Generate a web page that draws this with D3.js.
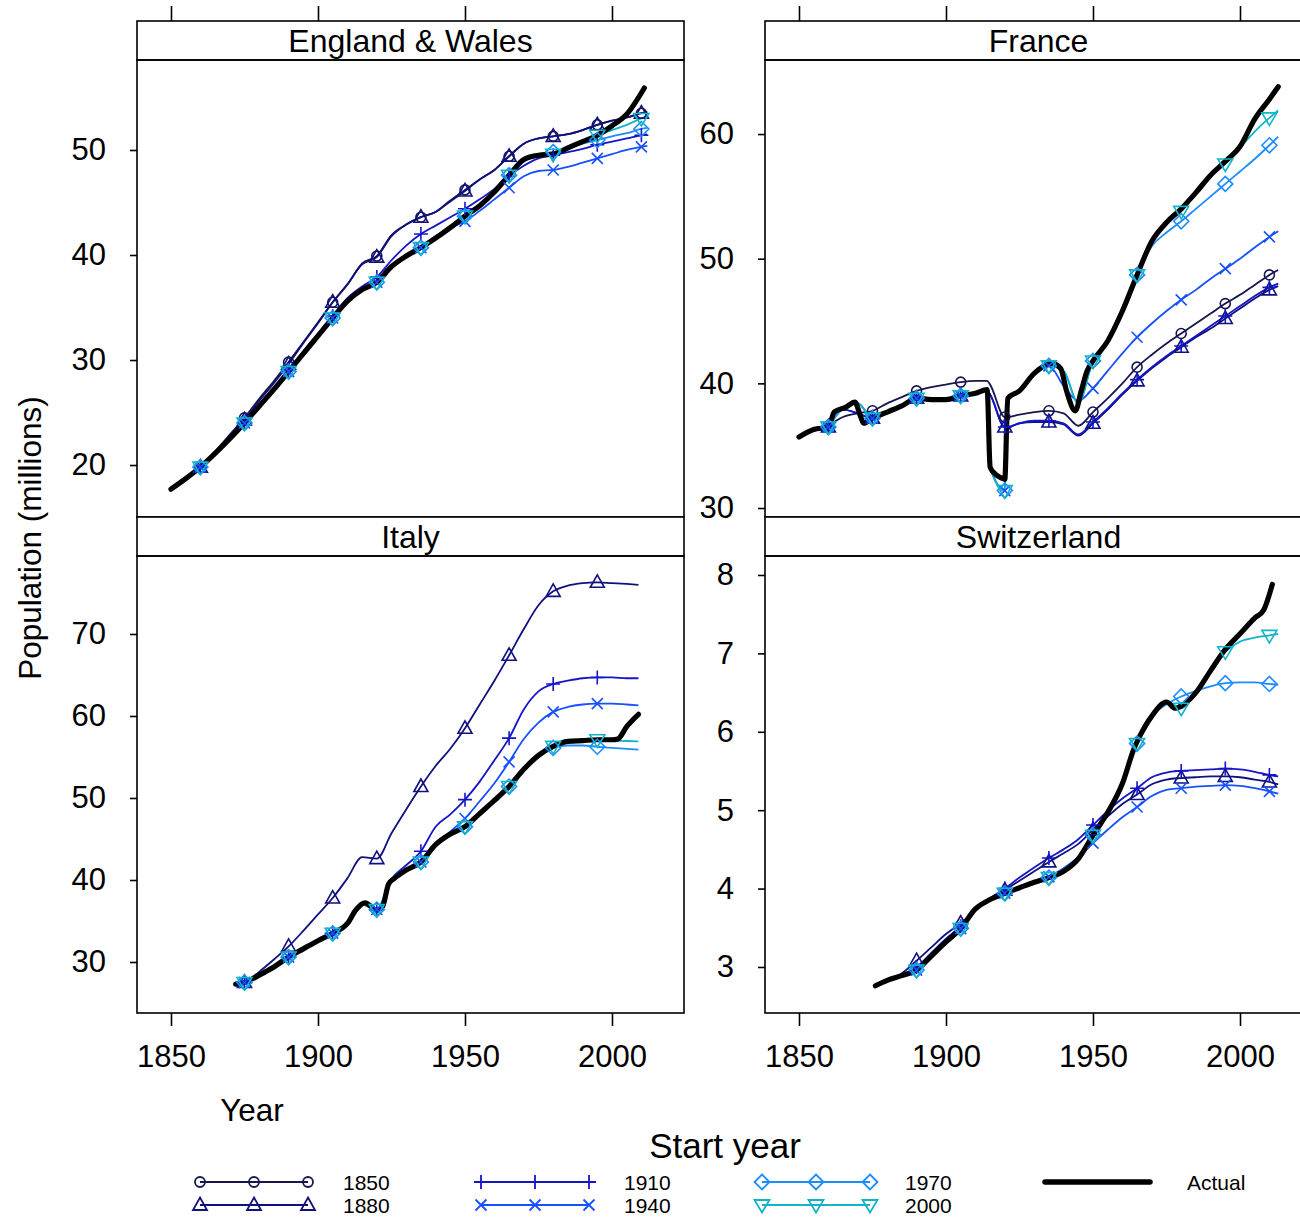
<!DOCTYPE html>
<meta charset="utf-8">
<style>
body { margin: 0; background: #fff; }
svg { font-family: "Liberation Sans", Arial, Helvetica, sans-serif; }
.frame { fill: none; stroke: #000; stroke-width: 1.6px; }
.strip { fill: #fff; stroke: #000; stroke-width: 1.6px; }
.axis path.domain { display: none; }
.axis line { stroke: #000; stroke-width: 1.6px; }
.axis text { font-family: "Liberation Sans", Arial, sans-serif; font-size: 31px; fill: #000; }
</style>
<svg width="1300" height="1218"></svg>
<script src="https://d3js.org/d3.v7.min.js"></script>
<script>

var panelNames = ["England & Wales", "France", "Italy", "Switzerland"];
var startYears = ["1850", "1880", "1910", "1940", "1970", "2000"];
var xTicks = [1850, 1900, 1950, 2000];

// England & Wales
var ewTicks = [20, 30, 40, 50];
var ewActualYears = [1850,1855,1860,1865,1870,1875,1880,1885,1890,1895,1900,1905,1910,1915,1920,1925,1930,1935,1940,1945,1950,1955,1960,1965,1970,1975,1980,1985,1990,1995,2000,2005,2011];
var ewActual = [17.7,18.7,19.8,21.1,22.5,24.0,25.6,27.2,28.9,30.6,32.3,34.0,35.6,36.7,37.4,38.9,39.9,40.7,41.6,42.6,43.7,44.7,46.0,47.6,49.1,49.5,49.6,50.2,50.8,51.4,52.3,53.4,55.9];
var ewYears = [1860,1865,1870,1875,1880,1885,1890,1895,1900,1905,1910,1915,1920,1925,1930,1935,1940,1945,1950,1955,1960,1965,1970,1975,1980,1985,1990,1995,2000,2005,2010,2012];
var ew1850 = [19.8,21.3,22.9,24.5,26.3,28.0,29.8,31.7,33.6,35.5,37.2,39.2,39.9,41.9,42.9,43.6,44.1,45.2,46.2,47.2,48.1,49.4,50.6,51.1,51.3,51.5,51.9,52.4,52.8,53.1,53.5,53.6];
var ew1880 = [19.8,21.2,22.8,24.3,26.1,27.8,29.6,31.6,33.5,35.5,37.2,39.1,39.8,41.8,42.9,43.6,44.1,45.1,46.1,47.2,48.1,49.4,50.6,51.1,51.3,51.5,51.9,52.4,52.8,53.1,53.5,53.6];
var ew1910 = [19.8,21.1,22.6,24.1,25.7,27.3,29.0,30.8,32.5,34.2,35.9,37.0,37.9,39.5,40.9,42.0,42.8,43.6,44.4,45.3,46.3,47.5,48.5,49.2,49.5,49.8,50.1,50.5,50.8,51.1,51.4,51.5];
var ew1940 = [19.8,21.1,22.5,24.0,25.6,27.2,28.9,30.6,32.3,34.0,35.6,36.7,37.4,38.9,39.9,40.7,41.8,42.6,43.2,44.2,45.3,46.4,47.5,48.0,48.1,48.4,48.8,49.2,49.6,50.0,50.3,50.4];
var ew1970 = [19.8,21.1,22.5,24.0,25.6,27.2,28.9,30.6,32.3,34.0,35.6,36.7,37.4,38.9,39.9,40.7,41.6,42.6,43.7,44.7,46.0,47.6,48.9,49.5,49.8,50.2,50.6,50.95,51.3,51.6,52.0,52.1];
var ew2000 = [19.8,21.1,22.5,24.0,25.6,27.2,28.9,30.6,32.3,34.0,35.6,36.7,37.4,38.9,39.9,40.7,41.6,42.6,43.7,44.7,46.0,47.6,49.1,49.5,49.6,50.2,50.8,51.4,51.9,52.4,53.0,53.2];

// France
var frTicks = [30, 40, 50, 60];
var frActualYears = [1850,1855,1860,1862,1866,1869,1871,1872,1875,1880,1885,1890,1895,1900,1905,1910,1914,1915,1916,1919,1920,1921,1925,1930,1936,1939,1941,1944,1946,1948,1950,1955,1960,1965,1970,1975,1980,1985,1990,1995,2000,2005,2010,2013];
var frActual = [35.7,36.3,36.5,37.7,38.1,38.5,37.3,36.8,37.2,37.7,38.2,38.8,38.7,38.7,39.0,39.2,39.5,33.3,32.9,32.4,32.3,38.8,39.4,40.8,41.6,41.2,39.4,37.8,39.4,41.0,41.8,43.4,45.8,48.7,51.4,52.9,54.0,55.3,56.7,57.8,59.0,61.2,62.8,63.8];
var frYears = [1860,1865,1870,1875,1880,1885,1890,1895,1900,1905,1910,1914,1915,1920,1921,1925,1930,1935,1940,1945,1950,1955,1960,1965,1970,1975,1980,1985,1990,1995,2000,2005,2010,2013];
var fr1850 = [36.6,37.3,37.6,37.8,38.4,38.9,39.4,39.7,39.9,40.1,40.2,40.2,39.9,37.3,37.3,37.5,37.7,37.8,37.6,36.6,37.7,38.8,40.0,41.3,42.3,43.2,44.0,44.8,45.6,46.4,47.1,47.9,48.7,49.1];
var fr1880 = [36.5,37.9,37.6,37.2,37.7,38.2,38.8,38.7,38.7,39.0,39.2,39.4,39.1,36.5,36.5,36.8,36.9,36.9,36.7,35.8,36.8,37.9,39.1,40.2,41.2,42.1,42.9,43.7,44.4,45.2,46.0,46.8,47.5,47.8];
var fr1910 = [36.5,37.9,37.6,37.2,37.7,38.2,38.8,38.7,38.7,39.0,39.2,39.4,39.1,36.5,36.5,36.8,37.0,37.0,36.8,35.9,36.9,38.0,39.2,40.3,41.3,42.2,43.0,43.8,44.6,45.4,46.2,47.0,47.7,48.0];
var fr1940 = [36.5,38.0,38.4,37.2,37.7,38.2,38.8,38.7,38.7,39.0,39.2,39.4,33.3,31.4,38.6,39.5,40.8,41.4,39.8,38.6,39.6,41.0,42.4,43.7,44.8,45.8,46.7,47.5,48.4,49.2,50.0,50.9,51.75,52.2];
var fr1970 = [36.5,38.0,38.4,37.2,37.7,38.2,38.8,38.7,38.7,39.0,39.2,39.4,33.3,31.4,38.6,39.5,40.8,41.4,41.0,38.4,41.8,43.4,45.8,48.7,51.0,52.1,53.0,54.0,55.0,56.0,57.0,58.0,59.1,59.8];
var fr2000 = [36.5,38.0,38.4,37.2,37.7,38.2,38.8,38.7,38.7,39.0,39.2,39.4,33.3,31.4,38.6,39.5,40.8,41.4,41.0,38.4,41.8,43.4,45.8,48.7,51.4,52.9,53.8,55.3,56.7,57.6,58.9,60.2,61.3,61.9];

// Italy
var itTicks = [30, 40, 50, 60, 70];
var itActualYears = [1872,1875,1880,1885,1890,1895,1900,1905,1910,1913,1916,1920,1922,1924,1926,1930,1935,1940,1945,1950,1955,1960,1965,1970,1975,1980,1985,1990,1995,2000,2002,2005,2009];
var itActual = [27.3,27.5,28.4,29.4,30.6,31.6,32.6,33.5,34.7,36.4,37.2,36.3,36.8,39.5,40.2,41.2,42.2,44.3,45.6,46.5,48.1,49.7,51.4,53.5,55.2,56.3,56.9,57.0,57.1,57.1,57.2,58.7,60.2];
var itYears = [1875,1880,1885,1890,1895,1900,1905,1910,1915,1920,1925,1930,1935,1940,1945,1950,1955,1960,1965,1970,1975,1980,1985,1990,1995,2000,2005,2009];
var it1880 = [27.5,28.8,30.3,31.9,33.8,35.8,37.8,40.2,42.8,42.6,45.7,48.6,51.4,53.9,56.0,58.5,61.4,64.3,67.4,70.6,73.5,75.2,75.9,76.2,76.3,76.2,76.1,76.0];
var it1910 = [27.5,28.4,29.4,30.6,31.6,32.6,33.5,34.7,37.0,36.4,40.1,41.8,43.5,46.5,48.0,49.8,52.0,54.6,57.3,60.8,63.0,63.9,64.3,64.6,64.7,64.7,64.6,64.6];
var it1940 = [27.5,28.4,29.4,30.6,31.6,32.6,33.5,34.7,37.0,36.4,40.1,41.3,42.2,44.4,45.9,47.5,49.6,51.8,54.4,57.2,59.2,60.5,61.1,61.4,61.5,61.5,61.4,61.3];
var it1970 = [27.5,28.4,29.4,30.6,31.6,32.6,33.5,34.7,37.0,36.4,40.1,41.2,42.2,44.3,45.6,46.5,48.1,49.7,51.4,53.5,55.2,56.1,56.4,56.4,56.25,56.1,56.0,55.9];
var it2000 = [27.5,28.4,29.4,30.6,31.6,32.6,33.5,34.7,37.0,36.4,40.1,41.2,42.2,44.3,45.6,46.5,48.1,49.7,51.4,53.5,55.2,56.3,56.9,57.0,57.1,57.0,56.95,56.9];

// Switzerland
var chTicks = [3, 4, 5, 6, 7, 8];
var chActualYears = [1876,1880,1885,1890,1895,1900,1905,1910,1915,1920,1925,1930,1935,1940,1945,1950,1955,1960,1964,1966,1970,1975,1978,1980,1985,1990,1995,2000,2005,2008,2011];
var chActual = [2.76,2.83,2.89,2.96,3.14,3.32,3.49,3.74,3.86,3.94,4.01,4.08,4.14,4.22,4.38,4.68,4.97,5.34,5.79,5.95,6.20,6.38,6.30,6.33,6.50,6.78,7.05,7.25,7.45,7.55,7.88];
var chYears = [1880,1885,1890,1895,1900,1905,1910,1915,1920,1925,1930,1935,1940,1945,1950,1955,1960,1965,1970,1975,1980,1985,1990,1995,2000,2005,2010,2013];
var ch1880 = [2.83,2.92,3.08,3.25,3.42,3.56,3.72,3.86,3.98,4.10,4.22,4.34,4.45,4.57,4.75,4.92,5.08,5.20,5.33,5.39,5.41,5.42,5.43,5.43,5.42,5.39,5.36,5.33];
var ch1910 = [2.83,2.90,3.00,3.18,3.36,3.52,3.73,3.88,4.00,4.14,4.27,4.39,4.50,4.63,4.81,4.99,5.15,5.28,5.42,5.48,5.50,5.51,5.52,5.53,5.52,5.49,5.45,5.43];
var ch1940 = [2.83,2.89,2.96,3.14,3.32,3.49,3.74,3.86,3.94,4.01,4.08,4.15,4.26,4.40,4.58,4.75,4.91,5.04,5.18,5.26,5.28,5.30,5.31,5.32,5.31,5.28,5.24,5.21];
var ch1970 = [2.83,2.89,2.96,3.14,3.32,3.49,3.74,3.86,3.94,4.01,4.08,4.14,4.22,4.38,4.68,4.97,5.34,5.85,6.20,6.35,6.45,6.52,6.58,6.62,6.63,6.63,6.61,6.60];
var ch2000 = [2.83,2.89,2.96,3.14,3.32,3.49,3.74,3.86,3.94,4.01,4.08,4.14,4.22,4.38,4.68,4.97,5.34,5.85,6.20,6.38,6.30,6.50,6.78,7.02,7.15,7.20,7.23,7.25];

var colours = {"1850": "#161650", "1880": "#10107e", "1910": "#1515c8", "1940": "#1650ff", "1970": "#1c8cff", "2000": "#12b4c8"};
var shapes = {"1850": "circle", "1880": "triangle", "1910": "plus", "1940": "cross", "1970": "diamond", "2000": "triangleDown"};

var panels = [
  {name: panelNames[0], col: 0, row: 0, yDomain: [15.05, 58.57], ticks: ewTicks, actualYears: ewActualYears, actual: ewActual, years: ewYears,
   series: {"1850": ew1850, "1880": ew1880, "1910": ew1910, "1940": ew1940, "1970": ew1970, "2000": ew2000}},
  {name: panelNames[1], col: 1, row: 0, yDomain: [29.28, 65.94], ticks: frTicks, actualYears: frActualYears, actual: frActual, years: frYears,
   series: {"1850": fr1850, "1880": fr1880, "1910": fr1910, "1940": fr1940, "1970": fr1970, "2000": fr2000}},
  {name: panelNames[2], col: 0, row: 1, yDomain: [23.78, 79.51], ticks: itTicks, actualYears: itActualYears, actual: itActual, years: itYears,
   series: {"1880": it1880, "1910": it1910, "1940": it1940, "1970": it1970, "2000": it2000}},
  {name: panelNames[3], col: 1, row: 1, yDomain: [2.413, 8.242], ticks: chTicks, actualYears: chActualYears, actual: chActual, years: chYears,
   series: {"1880": ch1880, "1910": ch1910, "1940": ch1940, "1970": ch1970, "2000": ch2000}}
];

var svg = d3.select("svg");

var colX = [137, 765],
    panelW = 547,
    stripTop = [21, 517],
    stripH = 39,
    plotH = 457;

function symbolPath(kind) {
  switch (kind) {
    case "circle": return "M5,0A5,5 0 1,1 -5,0A5,5 0 1,1 5,0Z";
    case "triangle": return "M0,-7.5L7,5L-7,5Z";
    case "plus": return "M-7,0H7M0,-7V7";
    case "cross": return "M-5.5,-5.5L5.5,5.5M-5.5,5.5L5.5,-5.5";
    case "diamond": return "M0,-7.5L7.5,0L0,7.5L-7.5,0Z";
    case "triangleDown": return "M0,7.5L7.5,-5L-7.5,-5Z";
  }
}

panels.forEach(function(p) {
  var x0 = colX[p.col],
      sTop = stripTop[p.row],
      pTop = sTop + stripH;

  var x = d3.scaleLinear().domain([1838.44, 2024.49]).range([x0, x0 + panelW]);
  var y = d3.scaleLinear().domain(p.yDomain).range([pTop + plotH, pTop]);

  var g = svg.append("g");

  // strip
  g.append("rect").attr("class", "strip")
      .attr("x", x0).attr("y", sTop).attr("width", panelW).attr("height", stripH);
  g.append("text")
      .attr("x", x0 + panelW / 2).attr("y", sTop + 31)
      .attr("text-anchor", "middle")
      .style("font-size", "32px")
      .text(p.name);

  g.append("rect").attr("class", "frame")
      .attr("x", x0).attr("y", pTop).attr("width", panelW).attr("height", plotH);

  // axes
  g.append("g").attr("class", "axis")
      .attr("transform", "translate(" + x0 + ",0)")
      .call(d3.axisLeft(y).tickValues(p.ticks).tickSize(7).tickPadding(24).tickFormat(d3.format("d")));

  if (p.row === 0) {
    g.append("g").attr("class", "axis")
        .attr("transform", "translate(0," + sTop + ")")
        .call(d3.axisTop(x).tickValues(xTicks).tickSize(15).tickFormat(""));
  } else {
    g.append("g").attr("class", "axis")
        .attr("transform", "translate(0," + (pTop + plotH) + ")")
        .call(d3.axisBottom(x).tickValues(xTicks).tickSize(13).tickPadding(19).tickFormat(d3.format("d")));
  }

  var line = d3.line()
      .x(function(d) { return x(d[0]); })
      .y(function(d) { return y(d[1]); })
      .curve(d3.curveMonotoneX);

  var keys = startYears.filter(function(k) { return p.series[k]; });

  keys.forEach(function(k) {
    var pts = p.years.map(function(yr, i) { return [yr, p.series[k][i]]; });
    g.append("path")
        .attr("d", line(pts))
        .attr("fill", "none")
        .attr("stroke", colours[k])
        .attr("stroke-width", 1.8);
  });

  var act = p.actualYears.map(function(yr, i) { return [yr, p.actual[i]]; });
  g.append("path")
      .attr("d", line(act))
      .attr("fill", "none")
      .attr("stroke", "#000")
      .attr("stroke-width", 5.2)
      .attr("stroke-linecap", "round")
      .attr("stroke-linejoin", "round");

  keys.forEach(function(k) {
    var pts = p.years.map(function(yr, i) { return [yr, p.series[k][i]]; })
        .filter(function(d) { return (d[0] - 1860) % 15 === 0; });
    g.selectAll(null)
        .data(pts)
        .enter().append("path")
        .attr("transform", function(d) { return "translate(" + x(d[0]) + "," + y(d[1]) + ")"; })
        .attr("d", symbolPath(shapes[k]))
        .attr("fill", "none")
        .attr("stroke", colours[k])
        .attr("stroke-width", 1.6);
  });
});

// axis titles
svg.append("text")
    .attr("transform", "translate(41,538) rotate(-90)")
    .attr("text-anchor", "middle")
    .style("font-size", "31.5px")
    .text("Population (millions)");

svg.append("text")
    .attr("x", 252).attr("y", 1121)
    .attr("text-anchor", "middle")
    .style("font-size", "31.5px")
    .text("Year");

svg.append("text")
    .attr("x", 725).attr("y", 1158)
    .attr("text-anchor", "middle")
    .style("font-size", "35px")
    .text("Start year");

// legend
var legCols = [200, 481, 762];
var legRows = [1182, 1205];
var leg = svg.append("g");

startYears.forEach(function(k, i) {
  var lx = legCols[Math.floor(i / 2)],
      ly = legRows[i % 2];
  leg.append("line")
      .attr("x1", lx).attr("x2", lx + 108)
      .attr("y1", ly).attr("y2", ly)
      .attr("stroke", colours[k])
      .attr("stroke-width", 2.2);
  [0, 54, 108].forEach(function(dx) {
    leg.append("path")
        .attr("transform", "translate(" + (lx + dx) + "," + ly + ")")
        .attr("d", symbolPath(shapes[k]))
        .attr("fill", "none")
        .attr("stroke", colours[k])
        .attr("stroke-width", 1.8);
  });
  leg.append("text")
      .attr("x", lx + 143).attr("y", ly + 7.5)
      .style("font-size", "21px")
      .text(k);
});

leg.append("line")
    .attr("x1", 1045).attr("x2", 1150)
    .attr("y1", 1182).attr("y2", 1182)
    .attr("stroke", "#000")
    .attr("stroke-width", 5.5)
    .attr("stroke-linecap", "round");
leg.append("text")
    .attr("x", 1187).attr("y", 1189.5)
    .style("font-size", "21px")
    .text("Actual");

</script>
